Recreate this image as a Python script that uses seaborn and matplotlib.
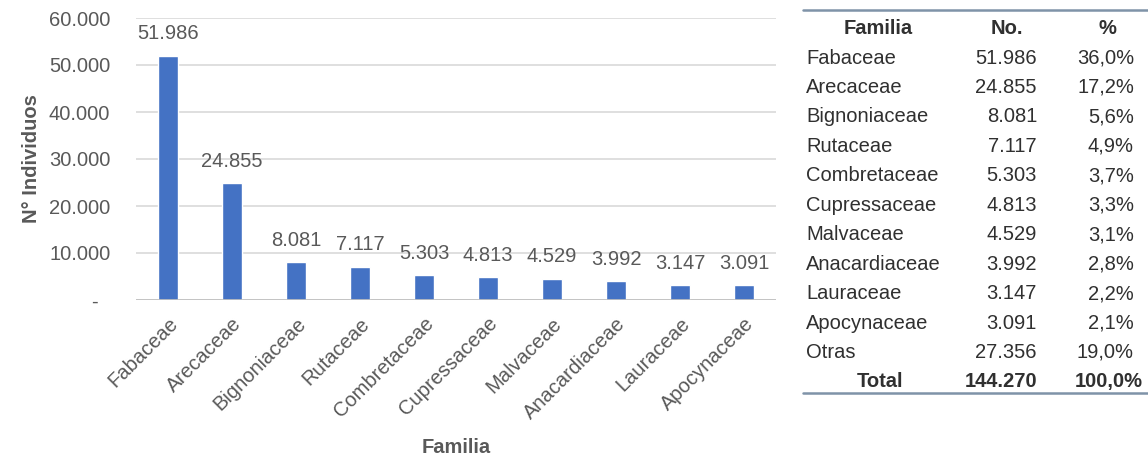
import matplotlib
matplotlib.use("Agg")
import matplotlib.pyplot as plt
from matplotlib.lines import Line2D
from matplotlib.ticker import FuncFormatter
import pandas as pd
import seaborn as sns

familias = ["Fabaceae", "Arecaceae", "Bignoniaceae", "Rutaceae", "Combretaceae",
            "Cupressaceae", "Malvaceae", "Anacardiaceae", "Lauraceae", "Apocynaceae"]
individuos = [51986, 24855, 8081, 7117, 5303, 4813, 4529, 3992, 3147, 3091]

tabla_familias = familias + ["Otras"]
tabla_no = ["51.986", "24.855", "8.081", "7.117", "5.303", "4.813", "4.529",
            "3.992", "3.147", "3.091", "27.356"]
tabla_pct = ["36,0%", "17,2%", "5,6%", "4,9%", "3,7%", "3,3%", "3,1%",
             "2,8%", "2,2%", "2,1%", "19,0%"]
total_no = "144.270"
total_pct = "100,0%"

W, H = 1148, 458
GRAY = "#595959"
DARK = "#303030"
BLUE = "#4472C4"
FS = 14.5

sns.set_style("white")
plt.rcParams["font.family"] = ["Liberation Sans", "DejaVu Sans"]


def miles(v):
    return f"{int(round(v)):,}".replace(",", ".")


df = pd.DataFrame({"Familia": familias, "Individuos": individuos})

fig = plt.figure(figsize=(W / 100, H / 100), dpi=100)
ax = fig.add_axes([136 / W, 1 - 300 / H, 640 / W, 282 / H])

sns.barplot(data=df, x="Familia", y="Individuos", color=BLUE, saturation=1,
            width=0.31, ax=ax)

ax.set_ylim(0, 60000)
ax.set_xlim(-0.5, len(familias) - 0.5)
ax.set_yticks(range(0, 60001, 10000))
# accounting style: zero shown as a dash, indented
ax.yaxis.set_major_formatter(FuncFormatter(lambda v, p: "-  " if v == 0 else miles(v)))
ax.grid(axis="y", color="#d9d9d9", linewidth=1.2)
ax.set_axisbelow(True)
for s in ax.spines.values():
    s.set_visible(False)
ax.axhline(0, color="#bfbfbf", linewidth=1.2, zorder=1)
ax.tick_params(axis="both", length=0, labelsize=FS, labelcolor=GRAY)
ax.tick_params(axis="y", pad=18.5)
plt.setp(ax.get_xticklabels(), rotation=45, ha="right", rotation_mode="anchor")
ax.tick_params(axis="x", pad=10)

for i, v in enumerate(individuos):
    ax.annotate(miles(v), (i, v), xytext=(0, 9), textcoords="offset points",
                ha="center", va="bottom", fontsize=FS, color=GRAY)

ax.set_xlabel("Familia", fontsize=FS, fontweight="bold", color=GRAY, labelpad=11)
ax.set_ylabel("N° Individuos", fontsize=FS, fontweight="bold", color=GRAY, labelpad=6)


# table on the right
def ftxt(x, y, s, **kw):
    fig.text(x / W, 1 - y / H, s, fontsize=FS, color=DARK, va="center", **kw)


x_fam, x_no, x_pct = 806, 1037, 1134
row0, paso = 58, 29.45

ftxt(878, 28, "Familia", ha="center", fontweight="bold")
ftxt(1007, 28, "No.", ha="center", fontweight="bold")
ftxt(1107, 28, "%", ha="center", fontweight="bold")
for i, (f, n, p) in enumerate(zip(tabla_familias, tabla_no, tabla_pct)):
    y = row0 + i * paso
    ftxt(x_fam, y, f, ha="left")
    ftxt(x_no, y, n, ha="right")
    ftxt(x_pct, y, p, ha="right")
y_tot = row0 + len(tabla_familias) * paso
ftxt(880, y_tot, "Total", ha="center", fontweight="bold")
ftxt(x_no, y_tot, total_no, ha="right", fontweight="bold")
ftxt(x_pct + 9, y_tot, total_pct, ha="right", fontweight="bold")

for yl in (10, 393):
    fig.add_artist(Line2D([803 / W, 1], [1 - yl / H, 1 - yl / H],
                          color="#7f93a8", linewidth=1.8))

fig.savefig("out.png", dpi=100)
